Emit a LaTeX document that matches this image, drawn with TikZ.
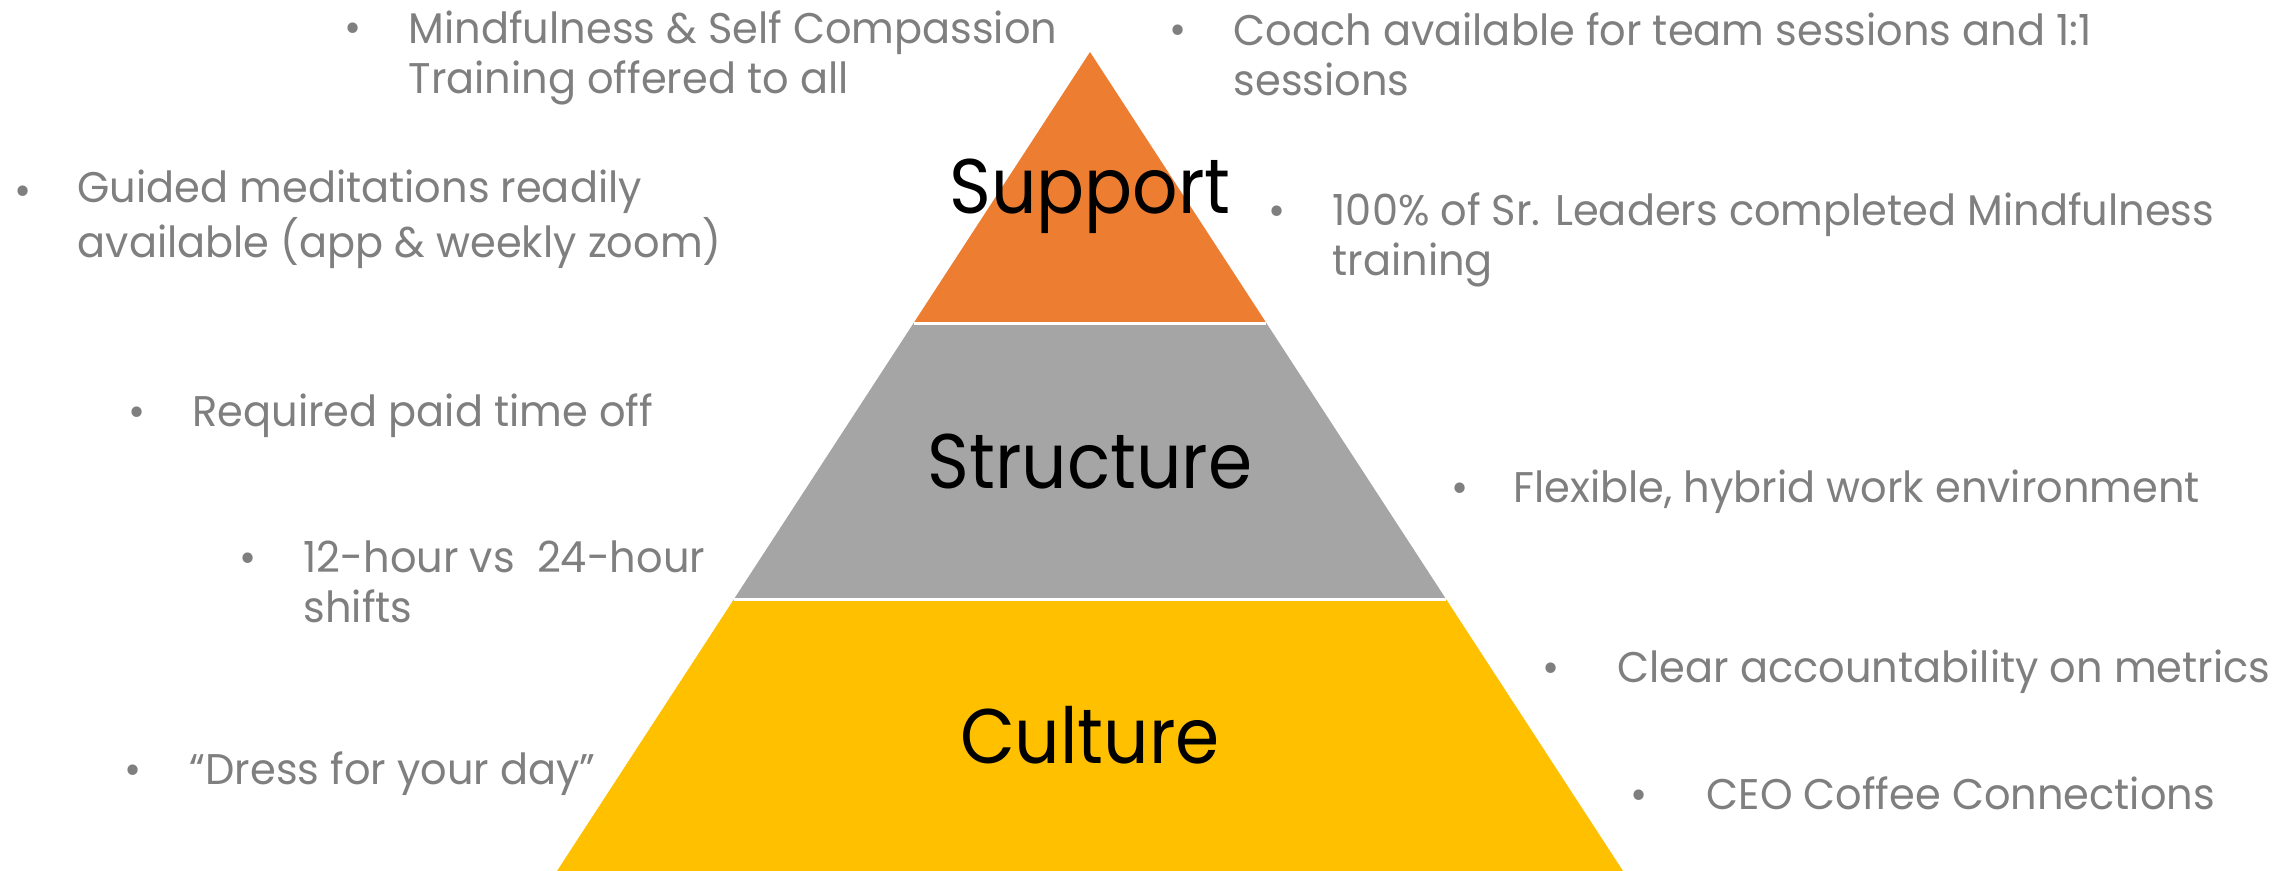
\documentclass[tikz,border=0pt]{standalone}
\usepackage{fontspec}
\setmainfont{Poppins}
\newfontfamily\notefont[FakeStretch=0.968]{Poppins}
\newfontfamily\tierfont[FakeStretch=0.92]{Poppins}
\usepackage{xcolor}
\usepackage{tikz}
\usetikzlibrary{calc}

\definecolor{suporange}{HTML}{ED7D31}
\definecolor{strucgray}{HTML}{A5A5A5}
\definecolor{cultgold}{HTML}{FFC000}
\definecolor{notegray}{HTML}{7F7F7F}

\begin{document}
\begin{tikzpicture}[
            x=0.1mm, y=-0.1mm,
            note/.style={anchor=base west, inner sep=0pt, align=left, text=notegray,
                 font=\notefont\fontsize{12.2}{14.2}\selectfont},
            dot/.style={anchor=base, inner sep=0pt, text=notegray,
                 font=\notefont\fontsize{12.2}{14.2}\selectfont},
            tier/.style={anchor=base, inner sep=0pt, font=\tierfont\fontsize{22}{26}\selectfont}
            ]
            \useasboundingbox (0,0) rectangle (2292,871);

            % Pyramid corners and tier boundaries
            \coordinate (apex) at (1090,52);
            \coordinate (bl) at (557,871);
            \coordinate (br) at (1623,871);
            \coordinate (l1) at ($(apex)!0.3309!(bl)$);
            \coordinate (r1) at ($(apex)!0.3309!(br)$);
            \coordinate (l2) at ($(apex)!0.6679!(bl)$);
            \coordinate (r2) at ($(apex)!0.6679!(br)$);

            \fill[suporange] (apex) -- (r1) -- (l1) -- cycle;
            \fill[strucgray] (l1) -- (r1) -- (r2) -- (l2) -- cycle;
            \fill[cultgold] (l2) -- (r2) -- (br) -- (bl) -- cycle;
            \draw[white, line width=0.3mm] (l1) -- (r1);
            \draw[white, line width=0.3mm] (l2) -- (r2);

            % Tier labels
            \node[tier] (supportlbl) at (1090,213) {Support};
            \node[tier] (structlbl) at (1090,488) {Structure};
            \node[tier] (culturelbl) at (1090,763) {Culture};

            % Notes, left side (two-line notes sit on their last baseline)
            \node[dot] (mindb) at (353,42) {\textbullet};
            \node[note] (mind) at (408,93) {Mindfulness \& Self Compassion\\Training offered to all};
            \node[dot] (guideb) at (23,205) {\textbullet};
            \node[note] (guide) at (77,257) {Guided meditations readily\\available (app \& weekly zoom)};
            \node[dot] (ptob) at (137,426) {\textbullet};
            \node[note] (pto) at (192,426) {Required paid time off};
            \node[dot] (shiftb) at (248,572) {\textbullet};
            \node[note] (shift) at (303,622) {12-hour vs~ 24-hour\\shifts};
            \node[dot] (dressb) at (133,784) {\textbullet};
            \node[note] (dress) at (189,784) {“Dress for your day”};

            % Notes, right side
            \node[dot] (coachb) at (1178,45) {\textbullet};
            \node[note] (coach) at (1233,95) {Coach available for team sessions and 1:1\\sessions};
            \node[dot] (leadb) at (1277,225) {\textbullet};
            \node[note] (lead) at (1332,275) {100\% of Sr. Leaders completed Mindfulness\\training};
            \node[dot] (flexb) at (1460,502) {\textbullet};
            \node[note] (flex) at (1513,502) {Flexible, hybrid work environment};
            \node[dot] (metricb) at (1551,682) {\textbullet};
            \node[note] (metric) at (1617,682) {Clear accountability on metrics};
            \node[dot] (ceob) at (1639,809) {\textbullet};
            \node[note] (ceo) at (1706,809) {CEO Coffee Connections};
        \end{tikzpicture}
\end{document}
